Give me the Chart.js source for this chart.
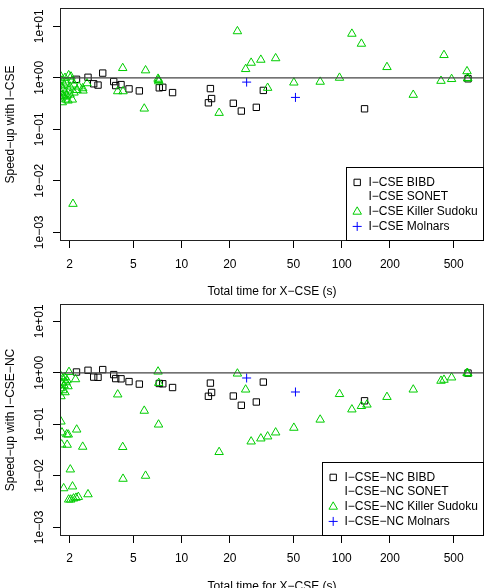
<!DOCTYPE html>
<html><head><meta charset="utf-8">
<script src="https://cdn.jsdelivr.net/npm/chart.js@4.4.1/dist/chart.umd.min.js"></script>
<style>
html,body{margin:0;padding:0;background:#fff;}
#wrap{position:relative;width:490px;height:588px;overflow:hidden;background:#fff;}
canvas{position:absolute;left:0;}
</style></head><body>
<div id="wrap">
<canvas id="cTop" width="490" height="305" style="top:0px"></canvas>
<canvas id="cBot" width="490" height="294" style="top:294px"></canvas>
</div>
<script>
// ---------- tick values / labels ----------
const xTicks = [2, 5, 10, 20, 50, 100, 200, 500];
const yTicks = [1e-3, 1e-2, 1e-1, 1, 10];
const yTickLabels = ['1e\u221203', '1e\u221202', '1e\u221201', '1e+00', '1e+01'];
const xTitle = 'Total time for X\u2212CSE (s)';
const topYTitle = 'Speed\u2212up with I\u2212CSE';
const botYTitle = 'Speed\u2212up with I\u2212CSE\u2212NC';
const topSeries = ['I\u2212CSE BIBD', 'I\u2212CSE SONET', 'I\u2212CSE Killer Sudoku', 'I\u2212CSE Molnars'];
const botSeries = ['I\u2212CSE\u2212NC BIBD', 'I\u2212CSE\u2212NC SONET', 'I\u2212CSE\u2212NC Killer Sudoku', 'I\u2212CSE\u2212NC Molnars'];

// ---------- data ----------
const bibdX    = [2.206, 2.603, 3.216, 2.825, 3.006, 3.767, 3.877, 4.184, 4.695, 5.445, 7.253, 7.627, 8.780, 15.13, 15.39, 14.70, 21.03, 23.60, 29.28, 32.38, 138.8, 614.5];
const bibdTopY = [0.935, 1.023, 1.234, 0.765, 0.722, 0.844, 0.706, 0.738, 0.609, 0.557, 0.639, 0.654, 0.516, 0.617, 0.395, 0.327, 0.320, 0.226, 0.267, 0.569, 0.250, 0.956];
const bibdBotY = [1.036, 1.118, 1.154, 0.825, 0.818, 0.923, 0.772, 0.765, 0.675, 0.603, 0.620, 0.612, 0.518, 0.631, 0.415, 0.350, 0.354, 0.234, 0.271, 0.660, 0.286, 0.987];

const sonetX = [];
const sonetY = [];

const molX    = [25.47, 51.4];
const molTopY = [0.825, 0.416];
const molBotY = [0.793, 0.424];

const ksTopX = [1.971,1.870,2.566,2.422,2.222,2.412,2.077,1.798,1.764,1.790,1.843,1.897,1.816,1.764,1.870,1.924,1.980,2.009,2.068,2.128,1.764,1.897,1.952,2.009,1.790,1.843,1.752,2.038,2.128,2.286,2.097,
  3.990,4.288,4.306,5.955,5.844,7.128,7.200,7.178,17.15,22.31,25.11,27.18,31.24,34.45,38.66,50.23,73.34,96.83,115.7,132.7,191.6,279.6,416.7,435.0,485.3,605.8,612.8,610.0];
const ksTopY = [1.118,0.996,0.782,0.564,0.577,0.625,0.377,0.334,1.055,0.882,0.738,0.807,0.617,0.516,0.516,0.451,0.564,0.675,0.882,0.516,0.395,0.377,0.361,0.472,0.451,0.431,0.706,1.055,0.738,0.675,0.00356,
  0.547,1.543,0.547,1.392,0.252,0.956,0.851,0.902,0.208,8.00,1.475,1.956,2.236,0.637,2.391,0.807,0.836,1.000,7.152,4.574,1.613,0.466,0.871,2.759,0.944,1.337,0.987,0.970];

const ksBotX = [1.980,2.175,1.764,2.212,1.790,1.916,1.960,2.412,1.782,1.929,2.018,2.083,1.834,2.603,1.971,2.030,2.113,2.190,2.264,
  1.764,1.816,1.870,1.924,1.790,1.843,1.897,1.752,1.816,1.870,1.764,1.952,
  3.990,4.288,4.306,5.955,5.844,7.128,7.200,7.178,17.15,22.31,25.11,27.18,31.24,34.45,38.66,50.23,73.34,96.83,115.7,132.7,143.7,191.6,279.6,416.7,435.0,485.3,605.8,612.8,610.0];
const ksBotY = [1.036,0.748,0.113,0.0789,0.0693,0.0639,0.0631,0.0366,0.0405,0.0400,0.01326,0.00620,0.00572,0.00437,0.00345,0.00345,0.00362,0.00374,0.00388,
  0.855,0.782,0.818,0.715,0.625,0.572,0.654,0.500,0.457,0.418,0.350,0.547,
  0.379,0.0362,0.00874,0.0100,0.183,1.055,0.634,0.0987,0.0289,0.965,0.472,0.0463,0.0530,0.0580,0.0693,0.0855,0.123,0.386,0.194,0.226,0.241,0.339,0.472,0.699,0.731,0.810,0.991,0.965,0.980];

// ---------- rendering ----------
const FONT = '"Liberation Sans", Arial, Helvetica, sans-serif';
Chart.defaults.font.family = FONT;
Chart.defaults.font.size = 12;
Chart.defaults.color = '#000';

const COLORS = ['#000000', '#DF536B', '#00CD00', '#0000FF'];
const STYLES = ['rect', null, 'triangle', 'cross'];

function zip(xs, ys) { return xs.map((x, i) => ({x: x, y: ys[i]})); }

function drawSymbol(ctx, style, color, x, y) {
  ctx.save();
  ctx.strokeStyle = color; ctx.lineWidth = 1;
  ctx.beginPath();
  if (style === 'rect') {
    ctx.rect(x - 3.2, y - 3.2, 6.4, 6.4);
  } else if (style === 'triangle') {
    const r = 4.9;
    ctx.moveTo(x, y - r);
    ctx.lineTo(x + r * Math.sin(2 * Math.PI / 3), y + r / 2);
    ctx.lineTo(x - r * Math.sin(2 * Math.PI / 3), y + r / 2);
    ctx.closePath();
  } else if (style === 'cross') {
    ctx.moveTo(x - 4.5, y); ctx.lineTo(x + 4.5, y);
    ctx.moveTo(x, y - 4.5); ctx.lineTo(x, y + 4.5);
  }
  ctx.stroke();
  ctx.restore();
}

const decor = {
  id: 'decor',
  afterDatasetsDraw(chart) {
    const {ctx, chartArea: a, scales} = chart;
    const y1 = scales.y.getPixelForValue(1);
    ctx.save();
    ctx.strokeStyle = '#444'; ctx.lineWidth = 1.2;
    ctx.beginPath(); ctx.moveTo(a.left, y1); ctx.lineTo(a.right, y1); ctx.stroke();
    ctx.restore();
  },
  afterDraw(chart, args, opts) {
    const {ctx, chartArea: a} = chart;
    ctx.save();
    // plot box
    ctx.strokeStyle = '#222'; ctx.lineWidth = 1;
    ctx.strokeRect(a.left + 0.5, a.top + 0.5, a.right - a.left - 1, a.bottom - a.top - 1);
    // axis titles
    ctx.fillStyle = '#000';
    ctx.font = '12px ' + FONT;
    ctx.textAlign = 'center'; ctx.textBaseline = 'middle';
    ctx.fillText(opts.xTitle, (a.left + a.right) / 2, opts.xTitleY);
    ctx.save();
    ctx.translate(opts.yTitleX, (a.top + a.bottom) / 2);
    ctx.rotate(-Math.PI / 2);
    ctx.fillText(opts.yTitle, 0, 0);
    ctx.restore();
    // legend
    const ds = chart.data.datasets;
    const tw = Math.max.apply(null, ds.map(d => ctx.measureText(d.label).width));
    const bw = Math.round(22.5 + tw + 6), bh = 74;
    const bx = Math.round(a.right - bw), by = Math.round(a.bottom - bh);
    ctx.fillStyle = '#fff';
    ctx.fillRect(bx, by, a.right - bx, a.bottom - by);
    ctx.strokeStyle = '#000'; ctx.lineWidth = 1;
    ctx.strokeRect(bx + 0.5, by + 0.5, a.right - bx - 1, a.bottom - by - 1);
    ctx.textAlign = 'left'; ctx.textBaseline = 'middle';
    ds.forEach((d, i) => {
      const cy = by + 15.4 + i * 14.67;
      if (d.data.length) drawSymbol(ctx, d.pointStyle, d.borderColor, bx + 11.2, cy);
      ctx.fillStyle = '#000';
      ctx.fillText(d.label, bx + 22.5, cy);
    });
    ctx.restore();
  }
};

function makeChart(id, cfg) {
  const datasets = [
    {label: cfg.labels[0], data: zip(bibdX, cfg.bibdY), order: 3},
    {label: cfg.labels[1], data: zip(sonetX, sonetY), order: 2},
    {label: cfg.labels[2], data: zip(cfg.ksX, cfg.ksY), order: 1},
    {label: cfg.labels[3], data: zip(molX, cfg.molY), order: 0}
  ].map((d, i) => Object.assign(d, {
    pointStyle: STYLES[i] || 'circle',
    pointRadius: [4.5, 0, 4.9, 4.5][i],
    pointHoverRadius: [4.5, 0, 4.9, 4.5][i],
    borderColor: COLORS[i],
    backgroundColor: 'rgba(0,0,0,0)',
    pointBorderWidth: 1,
    clip: 0,
    showLine: false
  }));
  const gridOpts = {drawOnChartArea: false, drawTicks: true, tickLength: 7, color: '#000', tickColor: '#000', lineWidth: 1};
  return new Chart(document.getElementById(id), {
    type: 'scatter',
    data: {datasets: datasets},
    options: {
      responsive: false, animation: false, devicePixelRatio: 1, events: [],
      layout: {padding: {left: 0, right: 6, top: cfg.top, bottom: 0}},
      plugins: {legend: {display: false}, tooltip: {enabled: false},
        decor: {xTitle: xTitle, xTitleY: cfg.xTitleY, yTitle: cfg.yTitle, yTitleX: 10.5}},
      scales: {
        x: {
          type: 'logarithmic', position: 'bottom', min: 1.740, max: 773.3, bounds: 'data',
          afterBuildTicks: s => { s.ticks = xTicks.map(v => ({value: v})); },
          afterFit: s => { s.height = cfg.xAxisH; },
          ticks: {autoSkip: false, minRotation: 0, maxRotation: 0, padding: cfg.xPad, color: '#000',
            font: {size: 12}, callback: v => String(v)},
          grid: gridOpts, border: {display: false}
        },
        y: {
          type: 'logarithmic', position: 'left', min: cfg.yMin, max: cfg.yMax, bounds: 'data',
          afterBuildTicks: s => { s.ticks = yTicks.map(v => ({value: v})); },
          afterFit: s => { s.width = 60; },
          ticks: {autoSkip: false, minRotation: 90, maxRotation: 90, crossAlign: 'center', padding: -4,
            color: '#000', font: {size: 12},
            callback: v => {
              const i = yTicks.findIndex(t => Math.abs(Math.log10(t) - Math.log10(v)) < 1e-6);
              return i >= 0 ? yTickLabels[i] : '';
            }},
          grid: gridOpts, border: {display: false}
        }
      }
    },
    plugins: [decor]
  });
}

makeChart('cTop', {labels: topSeries, bibdY: bibdTopY, ksX: ksTopX, ksY: ksTopY, molY: molTopY,
  top: 8, xAxisH: 64, xPad: 9, yMin: 0.000678, yMax: 22.65, xTitleY: 292, yTitle: topYTitle});
makeChart('cBot', {labels: botSeries, bibdY: bibdBotY, ksX: ksBotX, ksY: ksBotY, molY: molBotY,
  top: 10, xAxisH: 52, xPad: 8, yMin: 0.000678, yMax: 21.67, xTitleY: 292.5, yTitle: botYTitle});
</script>
</body></html>
